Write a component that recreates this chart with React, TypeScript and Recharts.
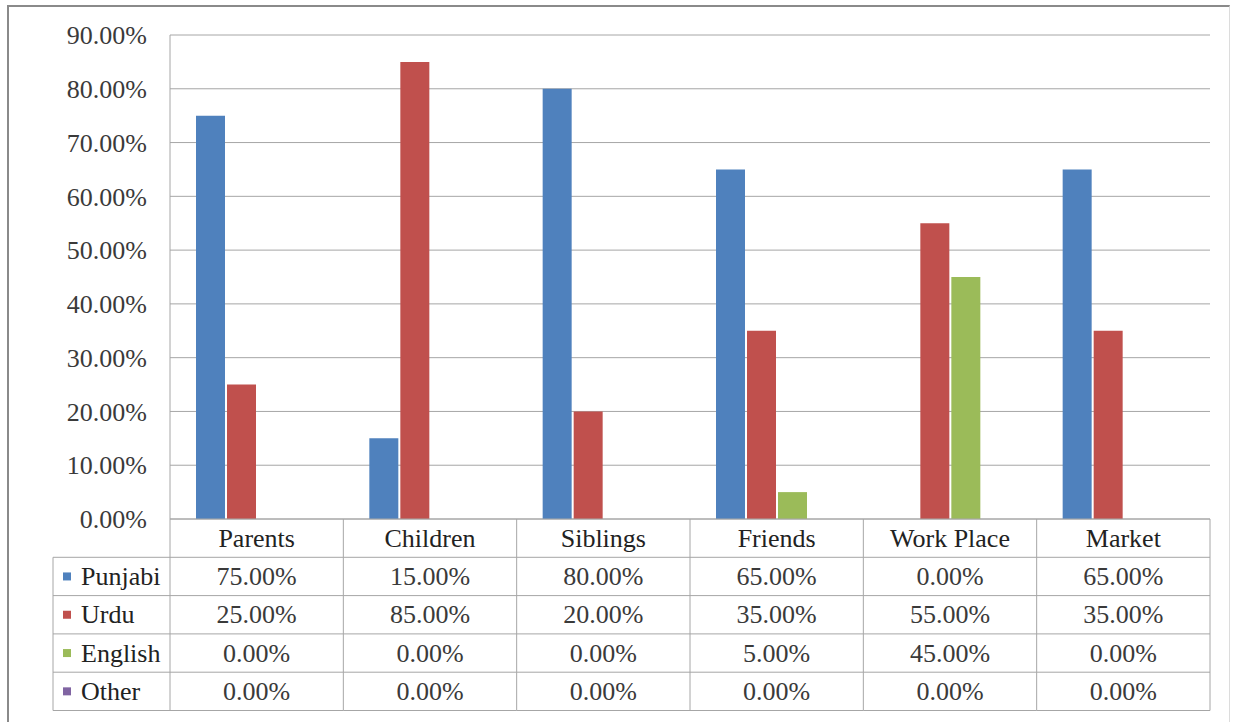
import React from 'react';
import { BarChart, Bar, XAxis, YAxis, CartesianGrid } from 'recharts';

const CATEGORIES = ['Parents', 'Children', 'Siblings', 'Friends', 'Work Place', 'Market'];
const PUNJABI = [75, 15, 80, 65, 0, 65];
const URDU = [25, 85, 20, 35, 55, 35];
const ENGLISH = [0, 0, 0, 5, 45, 0];
const OTHER = [0, 0, 0, 0, 0, 0];
const Y_TICKS = [0, 10, 20, 30, 40, 50, 60, 70, 80, 90];

const SERIES = [
  { key: 'punjabi', name: 'Punjabi', values: PUNJABI, color: '#4F81BD' },
  { key: 'urdu', name: 'Urdu', values: URDU, color: '#C0504D' },
  { key: 'english', name: 'English', values: ENGLISH, color: '#9BBB59' },
  { key: 'other', name: 'Other', values: OTHER, color: '#8064A2' },
];

const chartData = CATEGORIES.map((category, i) => {
  const row: Record<string, string | number> = { category };
  SERIES.forEach((s) => {
    row[s.key] = s.values[i];
  });
  return row;
});

// layout
const WIDTH = 1236;
const HEIGHT = 722;
const PLOT_LEFT = 170;
const PLOT_RIGHT = 1210;
const PLOT_TOP = 35;
const PLOT_BOTTOM = 519;
const LEGEND_LEFT = 53;
const ROW_H = 38.3;
const FONT = "'Liberation Serif', 'DejaVu Serif', 'Times New Roman', serif";
const LINE = '#a6a6a6';
const TXT = { fontFamily: FONT, fontSize: 26 };

const pct = (v: number) => `${v.toFixed(2)}%`;

// each x-axis tick draws one column of the data table under the plot
const TableColumn = (props: any) => {
  const { x, y, payload } = props;
  const idx: number = payload.index ?? props.index;
  const colW = (PLOT_RIGHT - PLOT_LEFT) / CATEGORIES.length;
  const left = x - colW / 2;
  const right = x + colW / 2;
  const bottom = y + ROW_H * (SERIES.length + 1);

  return (
    <g>
      <line x1={right} x2={right} y1={y} y2={bottom} stroke={LINE} />
      {SERIES.map((_, k) => (
        <line key={k} x1={left} x2={right} y1={y + ROW_H * (k + 1)} y2={y + ROW_H * (k + 1)} stroke={LINE} />
      ))}
      <line x1={left} x2={right} y1={bottom} y2={bottom} stroke={LINE} />
      <text x={x} y={y + ROW_H / 2} textAnchor="middle" dominantBaseline="central" style={TXT} fill="#222">
        {payload.value}
      </text>
      {SERIES.map((s, k) => (
        <text key={s.key} x={x} y={y + ROW_H * (k + 1.5)} textAnchor="middle" dominantBaseline="central"
          style={TXT} fill="#3a3a3a">
          {pct(s.values[idx])}
        </text>
      ))}
      {idx === 0 && (
        <g>
          <line x1={left} x2={left} y1={y} y2={bottom} stroke={LINE} />
          <line x1={LEGEND_LEFT} x2={LEGEND_LEFT} y1={y + ROW_H} y2={bottom} stroke={LINE} />
          {SERIES.map((s, k) => (
            <g key={s.key}>
              <line x1={LEGEND_LEFT} x2={left} y1={y + ROW_H * (k + 1)} y2={y + ROW_H * (k + 1)} stroke={LINE} />
              <rect x={63} y={y + ROW_H * (k + 1.5) - 4} width={8} height={8} fill={s.color} />
              <text x={81} y={y + ROW_H * (k + 1.5)} dominantBaseline="central" style={TXT} fill="#222">
                {s.name}
              </text>
            </g>
          ))}
          <line x1={LEGEND_LEFT} x2={left} y1={bottom} y2={bottom} stroke={LINE} />
        </g>
      )}
    </g>
  );
};

export default function App() {
  return (
    <div style={{ position: 'absolute', left: 0, top: 0, width: WIDTH, height: HEIGHT, background: '#fff', fontFamily: FONT }}>
      <div
        style={{
          position: 'absolute',
          left: 7,
          top: 5,
          width: 1220,
          height: 720,
          borderTop: '2px solid #8a8a8a',
          borderLeft: '2px solid #8a8a8a',
          borderRight: '1px solid #dcdcdc',
        }}
      />
      <div style={{ position: 'absolute', left: 0, top: 0 }}>
        <BarChart
          width={WIDTH}
          height={HEIGHT}
          data={chartData}
          margin={{ top: PLOT_TOP, right: WIDTH - PLOT_RIGHT, bottom: 0, left: 0 }}
          barSize={29}
          barGap={2}
        >
          <CartesianGrid vertical={false} stroke={LINE} />
          <YAxis
            width={PLOT_LEFT}
            domain={[0, 90]}
            ticks={Y_TICKS}
            tickFormatter={pct}
            tickSize={0}
            tickMargin={23}
            axisLine={{ stroke: LINE }}
            tick={{ style: TXT, fontFamily: FONT, fontSize: 26, fill: '#3a3a3a' }}
          />
          <XAxis
            dataKey="category"
            height={HEIGHT - PLOT_BOTTOM}
            interval={0}
            tickSize={0}
            tickMargin={0}
            axisLine={{ stroke: LINE }}
            tick={<TableColumn />}
          />
          {SERIES.map((s) => (
            <Bar key={s.key} dataKey={s.key} name={s.name} fill={s.color} isAnimationActive={false} />
          ))}
        </BarChart>
      </div>
    </div>
  );
}
